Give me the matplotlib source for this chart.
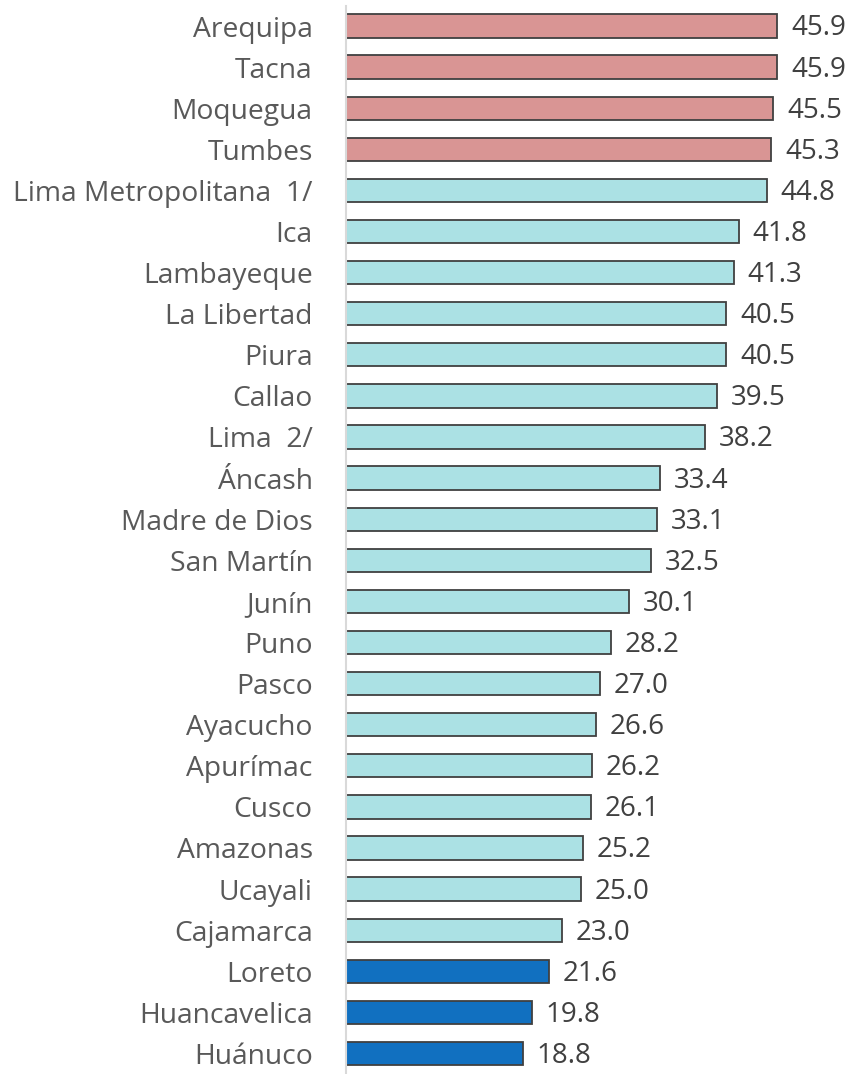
import matplotlib.pyplot as plt

regions = ["Arequipa", "Tacna", "Moquegua", "Tumbes", "Lima Metropolitana  1/", "Ica",
           "Lambayeque", "La Libertad", "Piura", "Callao", "Lima  2/", "Áncash",
           "Madre de Dios", "San Martín", "Junín", "Puno", "Pasco", "Ayacucho",
           "Apurímac", "Cusco", "Amazonas", "Ucayali", "Cajamarca", "Loreto",
           "Huancavelica", "Huánuco"]
values = [45.9, 45.9, 45.5, 45.3, 44.8, 41.8, 41.3, 40.5, 40.5, 39.5, 38.2, 33.4,
          33.1, 32.5, 30.1, 28.2, 27.0, 26.6, 26.2, 26.1, 25.2, 25.0, 23.0, 21.6,
          19.8, 18.8]
groups = ["alto"] * 4 + ["medio"] * 19 + ["bajo"] * 3

colors = {"alto": "#D99594", "medio": "#ABE1E4", "bajo": "#1170C0"}
plt.rcParams['font.family'] = ['Open Sans', 'DejaVu Sans']

fig = plt.figure(figsize=(8.53, 10.74), dpi=100)
ax = fig.add_axes([346 / 853, 0, 1 - 346 / 853, (1074 - 6) / 1074])

y = list(range(len(regions)))
ax.barh(y, values, height=0.567, color=[colors[g] for g in groups],
        edgecolor="#404040", linewidth=1.3)
for yi, v in zip(y, values):
    ax.annotate(f"{v:.1f}", (v, yi + 0.06), xytext=(10, 0), textcoords="offset points",
                va="center", ha="left", fontsize=20, color="#404040")

ax.set_xlim(0, 507 / 9.39)
ax.set_ylim(25.5, -0.487)
ax.set_yticks(y)
ax.set_yticklabels(regions, fontsize=20.3, color="#595959")
ax.tick_params(axis="y", length=0, pad=24)
ax.set_xticks([])
for s in ["top", "right", "bottom"]:
    ax.spines[s].set_visible(False)
ax.spines["left"].set_color("#D9D9D9")
ax.spines["left"].set_linewidth(1.5)

fig.savefig("out.png", dpi=100)
